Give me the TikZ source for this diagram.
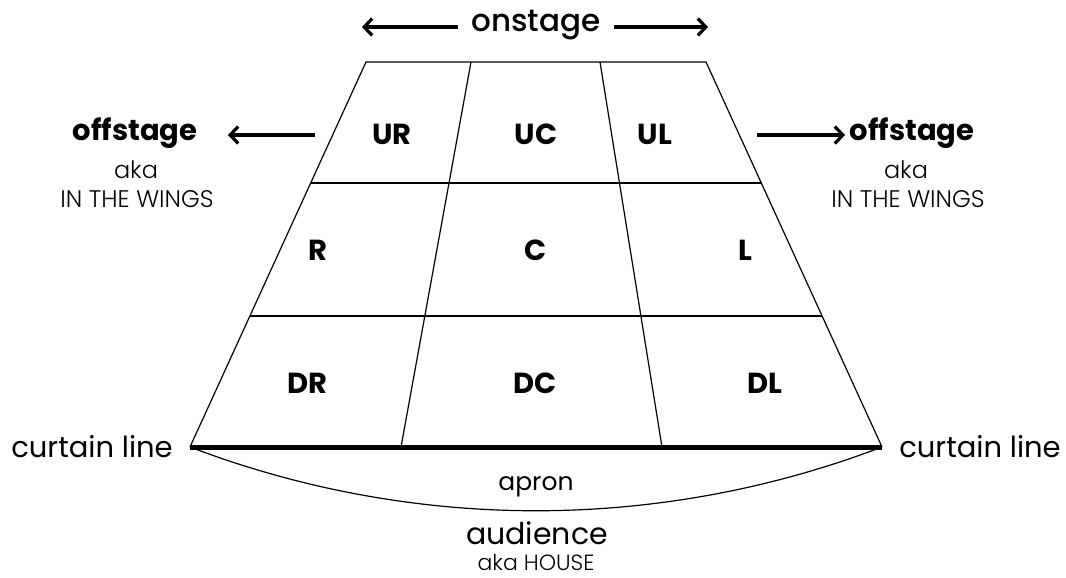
\documentclass[tikz,border=0pt]{standalone}
\usepackage{fontspec}
\setmainfont{Poppins}
\newfontfamily\lightfont{Poppins Light}
\newfontfamily\medfont{Poppins Medium}
\usetikzlibrary{arrows.meta,calc}

\begin{document}
\begin{tikzpicture}[x=1pt,y=-1pt,>={Straight Barb[length=8pt,width=17pt]},
    cell/.style={font=\fontsize{29}{29}\selectfont\bfseries},
    side/.style={font=\fontsize{29}{29}\selectfont\bfseries},
    note/.style={font=\fontsize{24}{24}\selectfont\lightfont},
    big/.style={font=\fontsize{29}{29}\selectfont},
    wing/.style={line width=3.2pt},
    edge/.style={line width=1.2pt}]
    \useasboundingbox[fill=white] (0,0) rectangle (1066,578);
    % \draw[help lines, gray] (0, 0) grid[step=50] (1066, 578);

    % stage corners
    \coordinate (tl) at (366,62);
    \coordinate (t1) at (471,62);
    \coordinate (t2) at (600,62);
    \coordinate (tr) at (706,62);
    \coordinate (bl) at (190,447);
    \coordinate (b1) at (401,447);
    \coordinate (b2) at (662,447);
    \coordinate (br) at (882,447);

    \draw[edge] (bl) -- (tl) -- (tr) -- (br);
    \draw[edge] (t1) -- (b1);
    \draw[edge] (t2) -- (b2);
    \draw[edge] ($(tl)!0.3143!(bl)$) -- ($(tr)!0.3143!(br)$);
    \draw[edge] ($(tl)!0.6597!(bl)$) -- ($(tr)!0.6597!(br)$);
    \draw[line width=5pt] (bl) -- (br);
    \draw[edge] (bl) .. controls (413,532) and (659,532) .. (br);

    \node[cell] (ur) at (392,134) {UR};
    \node[cell] (uc) at (536,134) {UC};
    \node[cell] (ul) at (655,134) {UL};
    \node[cell] (r)  at (318,250) {R};
    \node[cell] (c)  at (536,250) {C};
    \node[cell] (l)  at (745,250) {L};
    \node[cell] (dr) at (307,383) {DR};
    \node[cell] (dc) at (535,383) {DC};
    \node[cell] (dl) at (765,383) {DL};

    \node[big, font=\fontsize{31}{31}\selectfont\medfont] (onstage) at (536,25) {onstage};
    \coordinate (on-l) at (362,27);
    \coordinate (on-r) at (708,27);
    \draw[wing,->] ([xshift=-10pt]onstage.west |- on-l) -- (on-l);
    \draw[wing,->] ([xshift=10pt]onstage.east |- on-r) -- (on-r);

    \node[side] (off-l) at (135,133) {offstage};
    \node[note] (aka-l) at (136,170) {aka};
    \node[note] (wings-l) at (137,199) {IN THE WINGS};
    \coordinate (off-la) at (228,135);
    \draw[wing,->] (315,135) -- (off-la);

    \node[side] (off-r) at (912,133) {offstage};
    \node[note] (aka-r) at (906,170) {aka};
    \node[note] (wings-r) at (908,199) {IN THE WINGS};
    \coordinate (off-ra) at (845,135);
    \draw[wing,->] (757,135) -- (off-ra);

    \node[big] (curtain-l) at (92,447) {curtain line};
    \node[big] (curtain-r) at (980,447) {curtain line};

    \node[big, font=\fontsize{25}{25}\selectfont] (apron) at (536,487) {apron};
    \node[big, font=\fontsize{30}{30}\selectfont, inner sep=0pt] (audience) at (537,533) {audience};
    \node[note, font=\fontsize{22}{22}\selectfont\lightfont, inner sep=0pt] (house) at (536,562) {aka HOUSE};
\end{tikzpicture}
\end{document}
